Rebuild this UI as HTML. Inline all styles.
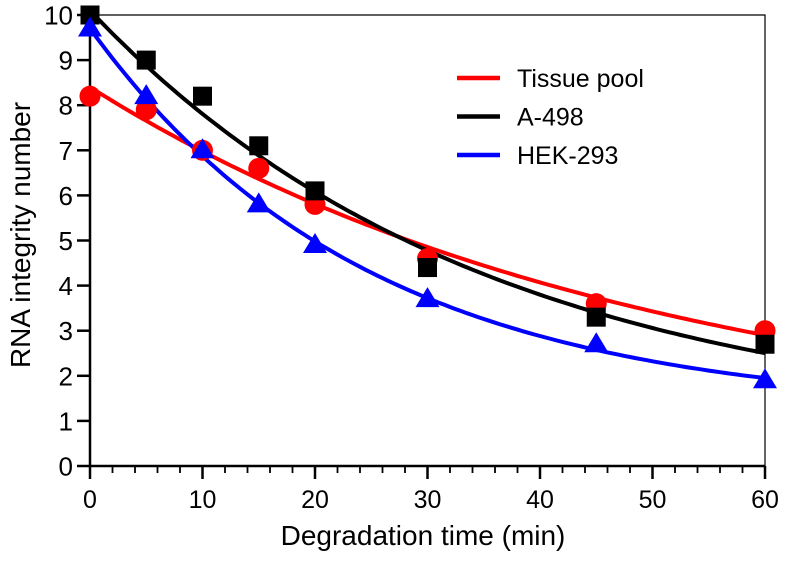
<!DOCTYPE html>
<html><head><meta charset="utf-8"><style>
body{margin:0;background:#fff;}
svg text{font-family:"Liberation Sans",Arial,sans-serif;fill:#000;}
</style></head><body>
<svg id="chart" width="786" height="563"></svg>
<script>
const xs=[0,5,10,15,20,30,45,60];
const tissue=[8.2,7.9,7.0,6.6,5.8,4.6,3.6,3.0];
const a498=[10.0,9.0,8.2,7.1,6.1,4.4,3.3,2.7];
const hek=[9.7,8.2,7.0,5.8,4.9,3.7,2.7,1.9];
// fit params: plateau, span, k
const tissueFit=[0.5,7.9,0.01985];
const a498Fit=[0.8,9.3,0.0283];
const hekFit=[1.2,8.5,0.0405];
const xTicks=[0,10,20,30,40,50,60];
const yTicks=[0,1,2,3,4,5,6,7,8,9,10];
const names=["Tissue pool","A-498","HEK-293"];

const svg=document.getElementById('chart');
const NS='http://www.w3.org/2000/svg';
const X=v=>90+v*(675/60), Y=v=>466-v*45.1;
function mk(t,a,p){const e=document.createElementNS(NS,t);for(const k in a)e.setAttribute(k,a[k]);(p||svg).appendChild(e);return e;}
let e=mk('path',{d:`M${X(0)},${Y(10)}H${X(60)}V${Y(0)}`,stroke:'#000','stroke-width':1.2,fill:'none'});


e=mk('line',{x1:X(0),y1:Y(10)-1,x2:X(0),y2:Y(0)+1,stroke:'#000','stroke-width':2.5});


e=mk('line',{x1:X(0)-1,y1:Y(0),x2:X(60),y2:Y(0),stroke:'#000','stroke-width':2.5});


yTicks.forEach(v=>{
 e=mk('line',{x1:77,y1:Y(v),x2:X(0),y2:Y(v),stroke:'#000','stroke-width':2.5});
 
 
 e=mk('text',{x:73,y:Y(v)+9.5,'text-anchor':'end','font-size':26});e.textContent=v;
 
 
});
for(let v=0;v<=60;v+=2){
 const major=v%10===0;
 e=mk('line',{x1:X(v),y1:Y(0),x2:X(v),y2:Y(0)+(major?13:7),stroke:'#000','stroke-width':major?2.5:1.8});
 
 
}
xTicks.forEach(v=>{
 e=mk('text',{x:X(v),y:508,'text-anchor':'middle','font-size':25});e.textContent=v;
 
 
});
e=mk('text',{x:423,y:545,'text-anchor':'middle','font-size':28});e.textContent='Degradation time (min)';


e=mk('text',{x:0,y:0,'text-anchor':'middle','font-size':28,transform:'translate(30,235) rotate(-90)'});e.textContent='RNA integrity number';



const series=[[tissue,tissueFit,'#ff0000','circle'],[a498,a498Fit,'#000000','square'],[hek,hekFit,'#0000ff','triangle']];
series.forEach(([d,f,c,sh])=>{
 let p='';for(let x=0;x<=60;x+=0.5){const y=f[0]+f[1]*Math.exp(-f[2]*x);p+=(x?'L':'M')+X(x).toFixed(1)+','+Y(y).toFixed(1);}
 e=mk('path',{d:p,stroke:c,'stroke-width':4,fill:'none'});
 
 
});
series.forEach(([d,f,c,sh])=>{
 d.forEach((v,j)=>{
  const cx=X(xs[j]),cy=Y(v);
  if(sh==='circle')e=mk('circle',{cx,cy,r:10.5,fill:c});
  else if(sh==='square')e=mk('rect',{x:cx-9.5,y:cy-9.5,width:19,height:19,fill:c});
  else e=mk('polygon',{points:`${cx},${cy-12} ${cx-12},${cy+8} ${cx+12},${cy+8}`,fill:c});
  
  
 });
});
names.forEach((n,i)=>{
 const y=78+i*38.5;
 e=mk('line',{x1:457,y1:y,x2:500,y2:y,stroke:series[i][2],'stroke-width':4.5});
 
 
 e=mk('text',{x:517,y:y+9,'font-size':25});e.textContent=n;
 
 
});
</script>
</body></html>
